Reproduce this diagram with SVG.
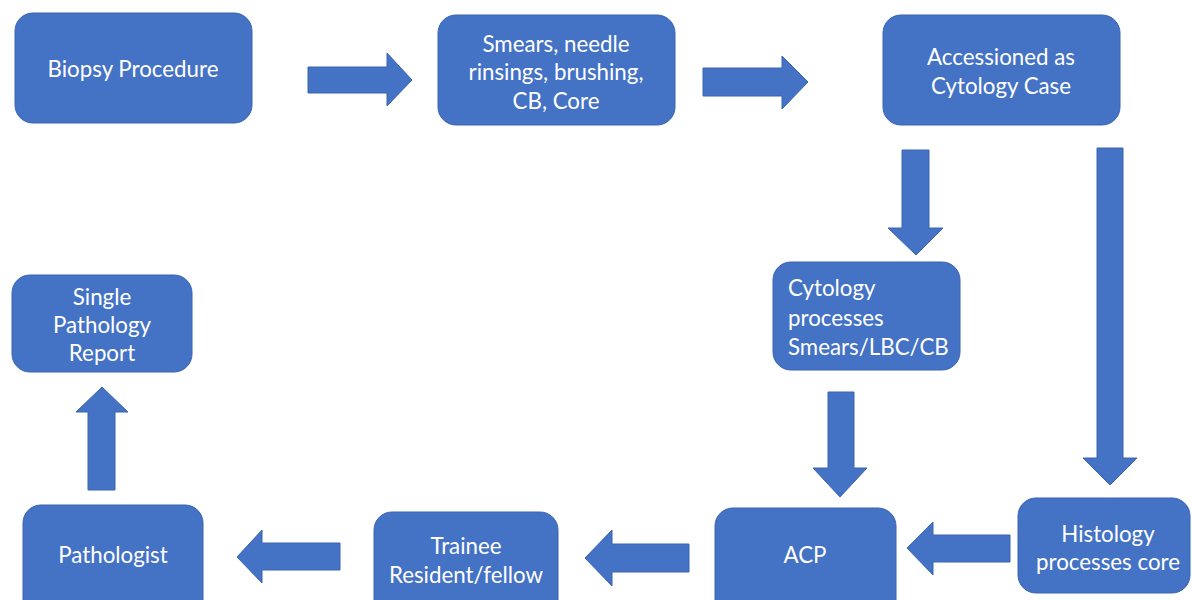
<svg xmlns="http://www.w3.org/2000/svg" width="1192" height="600" viewBox="0 0 1192 600">
<style>
.box{fill:#4472C4;stroke:#3A64AE;stroke-width:1}
.arr{fill:#4472C4;stroke:#3A64AE;stroke-width:1}
text{font-family:"Lato","Liberation Sans",sans-serif;font-size:22.3px;fill:#FFFFFF}
.c{text-anchor:middle}
</style>
<rect width="1192" height="600" fill="#FFFFFF"/>
<g id="connectors">
<polygon class="arr" points="308,67 387,67 387,53 412,80 387,106 387,93 308,93"/>
<polygon class="arr" points="703,68 782,68 782,56 808,82 782,109 782,96 703,96"/>
<polygon class="arr" points="902,150 929,150 929,228 943,228 916,255 888,228 902,228"/>
<polygon class="arr" points="1097,148 1123,148 1123,458 1137,458 1110,485 1083,458 1097,458"/>
<polygon class="arr" points="828,392 854,392 854,468 867,468 840,497 813,468 828,468"/>
<polygon class="arr" points="1010,535 933,535 933,522 907,548 933,575 933,562 1010,562"/>
<polygon class="arr" points="689,544 612,544 612,530 585,558 612,586 612,572 689,572"/>
<polygon class="arr" points="340,543 262,543 262,530 237,557 262,583 262,570 340,570"/>
<polygon class="arr" points="88,490 115,490 115,412 128,412 102,387 76,412 88,412"/>
</g>
<g id="biopsy">
<rect class="box" x="15" y="13" width="237" height="110" rx="18"/>
<text class="c" x="133" y="77">Biopsy Procedure</text>
</g>
<g id="smears">
<rect class="box" x="438" y="15" width="237" height="110" rx="18"/>
<text class="c" x="556" y="52">Smears, needle</text>
<text class="c" x="556" y="80">rinsings, brushing,</text>
<text class="c" x="556" y="109">CB, Core</text>
</g>
<g id="accessioned">
<rect class="box" x="883" y="15" width="237" height="110" rx="18"/>
<text class="c" x="1001" y="65">Accessioned as</text>
<text class="c" x="1001" y="94">Cytology Case</text>
</g>
<g id="cytology">
<rect class="box" x="773" y="262" width="187" height="108" rx="18"/>
<text x="788" y="296">Cytology</text>
<text x="788" y="326">processes</text>
<text x="788" y="355">Smears/LBC/CB</text>
</g>
<g id="histology">
<rect class="box" x="1018" y="498" width="172" height="95" rx="18"/>
<text class="c" x="1108" y="542">Histology</text>
<text class="c" x="1108" y="570">processes core</text>
</g>
<g id="acp">
<rect class="box" x="715" y="508" width="181" height="110" rx="18"/>
<text class="c" x="805" y="563">ACP</text>
</g>
<g id="trainee">
<rect class="box" x="374" y="512" width="184" height="106" rx="18"/>
<text class="c" x="466" y="554">Trainee</text>
<text class="c" x="466" y="583">Resident/fellow</text>
</g>
<g id="pathologist">
<rect class="box" x="23" y="505" width="180" height="112" rx="18"/>
<text class="c" x="113" y="563">Pathologist</text>
</g>
<g id="report">
<rect class="box" x="12" y="275" width="180" height="97" rx="18"/>
<text class="c" x="102" y="305">Single</text>
<text class="c" x="102" y="333">Pathology</text>
<text class="c" x="102" y="361">Report</text>
</g>
</svg>
